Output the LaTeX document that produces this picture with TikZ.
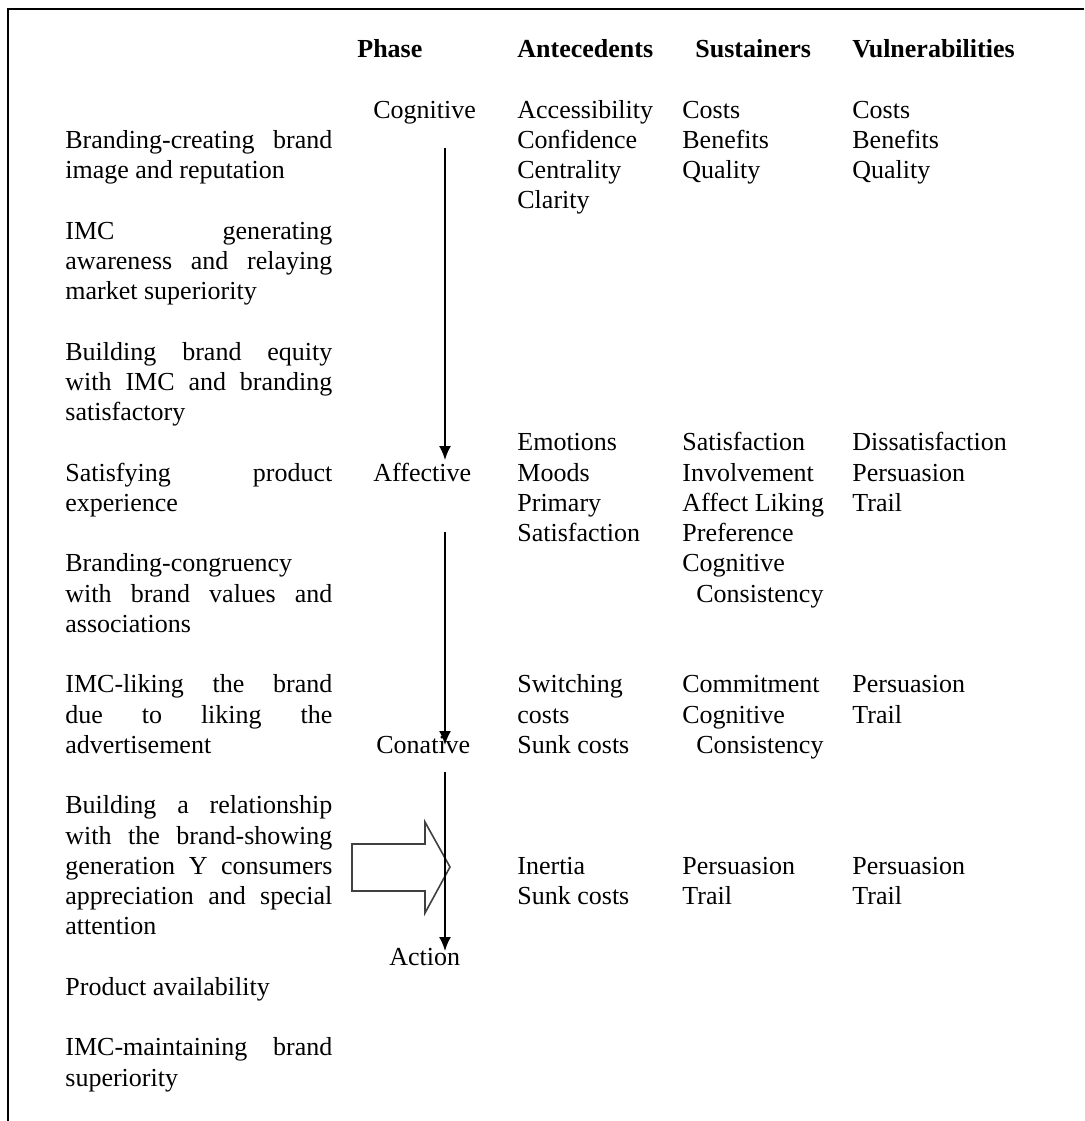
\documentclass[tikz,border=0pt]{standalone}
\usepackage{fontspec}
\setmainfont{Liberation Serif}
\usetikzlibrary{arrows.meta}
\newcommand\jl[1]{\makebox[133.5pt][s]{#1}}
\newcommand\lines[1]{\vtop{\halign{##\hfil\cr#1\crcr}}}
\begin{document}
\begin{tikzpicture}[x=0.5pt,y=-0.5pt,
  txt/.style={inner sep=0pt,anchor=base west,
    font=\fontsize{13}{15.125}\selectfont},
  hdr/.style={txt,font=\fontsize{13}{15.125}\selectfont\bfseries},
  flow/.style={line width=0.9pt,-{Latex[length=7pt,width=6pt]}},
  blockarrow/.style={draw=black!75,line width=0.8pt,fill=white}]
\useasboundingbox (0,0) rectangle (1084,1121);
\draw[line width=1pt] (8,1121) -- (8,9) -- (1084,9);
% headers
\node[hdr] (hphase) at (357,{118-2*30.25}) {Phase};
\node[hdr] (hante) at (517,{118-2*30.25}) {Antecedents};
\node[hdr] (hsust) at (695,{118-2*30.25}) {Sustainers};
\node[hdr] (hvuln) at (852,{118-2*30.25}) {Vulnerabilities};
% left column
\node[txt] (l1) at (65,{118+1*30.25}) {\lines{\jl{Branding-creating\hfill brand}\cr image and reputation}};
\node[txt] (l2) at (65,{118+4*30.25}) {\lines{\jl{IMC\hfill generating}\cr\jl{awareness and relaying}\cr market superiority}};
\node[txt] (l3) at (65,{118+8*30.25}) {\lines{\jl{Building brand equity}\cr\jl{with IMC and branding}\cr satisfactory}};
\node[txt] (l4) at (65,{118+12*30.25}) {\lines{\jl{Satisfying\hfill product}\cr experience}};
\node[txt] (l5) at (65,{118+15*30.25}) {\lines{Branding-congruency\cr\jl{with brand values and}\cr associations}};
\node[txt] (l6) at (65,{118+19*30.25}) {\lines{\jl{IMC-liking the brand}\cr\jl{due to liking the}\cr advertisement}};
\node[txt] (l7) at (65,{118+23*30.25}) {\lines{\jl{Building a relationship}\cr\jl{with the brand-showing}\cr\jl{generation Y consumers}\cr\jl{appreciation and special}\cr attention}};
\node[txt] (l8) at (65,{118+29*30.25}) {Product availability};
\node[txt] (l9) at (65,{118+31*30.25}) {\lines{\jl{IMC-maintaining brand}\cr superiority}};
% phases
\node[txt] (cog) at (373,{118+0*30.25}) {Cognitive};
\node[txt] (aff) at (373,{118+12*30.25}) {Affective};
\node[txt] (con) at (376,{118+21*30.25}) {Conative};
\node[txt] (act) at (389,{118+28*30.25}) {Action};
% antecedents
\node[txt] (a1) at (517,{118+0*30.25}) {\lines{Accessibility\cr Confidence\cr Centrality\cr Clarity}};
\node[txt] (a2) at (517,{118+11*30.25}) {\lines{Emotions\cr Moods\cr Primary\cr Satisfaction}};
\node[txt] (a3) at (517,{118+19*30.25}) {\lines{Switching\cr costs\cr Sunk costs}};
\node[txt] (a4) at (517,{118+25*30.25}) {\lines{Inertia\cr Sunk costs}};
% sustainers
\node[txt] (s1) at (682,{118+0*30.25}) {\lines{Costs\cr Benefits\cr Quality}};
\node[txt] (s2) at (682,{118+11*30.25}) {\lines{Satisfaction\cr Involvement\cr Affect Liking\cr Preference\cr Cognitive\cr\hspace*{7pt}Consistency}};
\node[txt] (s3) at (682,{118+19*30.25}) {\lines{Commitment\cr Cognitive\cr\hspace*{7pt}Consistency}};
\node[txt] (s4) at (682,{118+25*30.25}) {\lines{Persuasion\cr Trail}};
% vulnerabilities
\node[txt] (v1) at (852,{118+0*30.25}) {\lines{Costs\cr Benefits\cr Quality}};
\node[txt] (v2) at (852,{118+11*30.25}) {\lines{Dissatisfaction\cr Persuasion\cr Trail}};
\node[txt] (v3) at (852,{118+19*30.25}) {\lines{Persuasion\cr Trail}};
\node[txt] (v4) at (852,{118+25*30.25}) {\lines{Persuasion\cr Trail}};
% block arrow
\draw[blockarrow] (352,844) -- (425,844) -- (425,822) -- (450,867) -- (425,913) -- (425,891) -- (352,891) -- cycle;
% flow arrows
\coordinate (f1s) at (445,148);
\coordinate (f1e) at (445,460);
\coordinate (f2s) at (445,532);
\coordinate (f2e) at (445,745);
\coordinate (f3s) at (445,772);
\coordinate (f3e) at (445,951);
\draw[flow] (f1s) -- (f1e);
\draw[flow] (f2s) -- (f2e);
\draw[flow] (f3s) -- (f3e);
\end{tikzpicture}
\end{document}
